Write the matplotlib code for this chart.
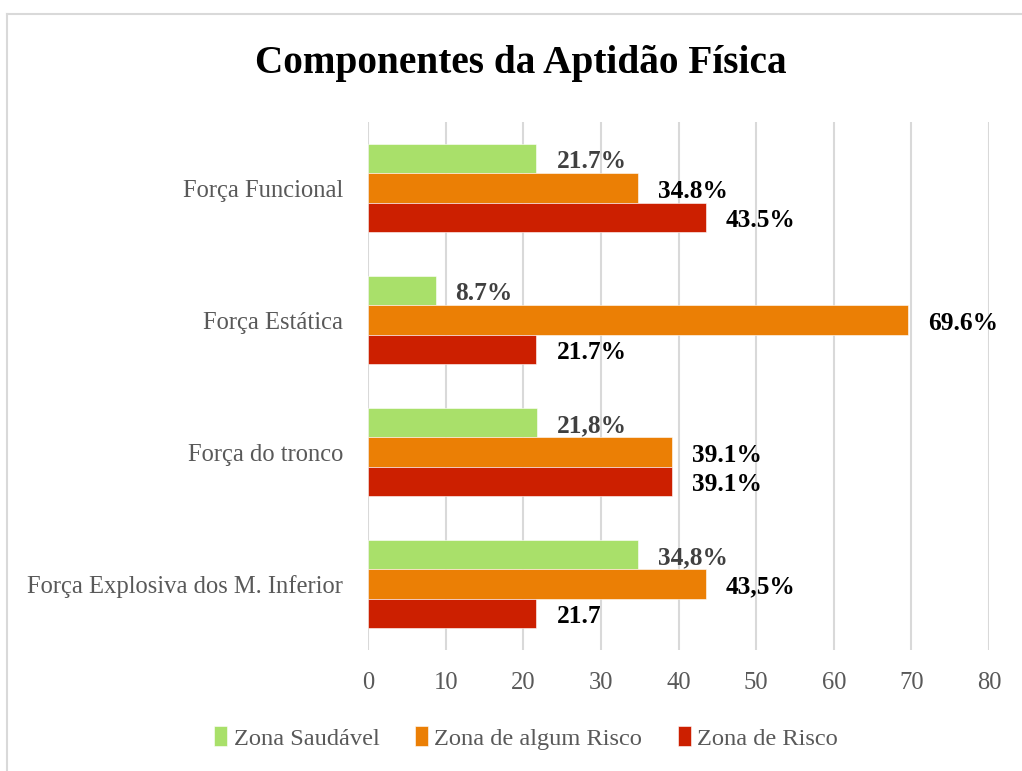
import numpy as np
import matplotlib
matplotlib.use('Agg')
import matplotlib.pyplot as plt
from matplotlib.lines import Line2D

plt.rcParams['font.family'] = ['Liberation Serif', 'DejaVu Serif']

# categories listed bottom -> top (as drawn by the axis)
categorias = ['Força Explosiva dos M. Inferior', 'Força do tronco', 'Força Estática', 'Força Funcional']
series = ['Zona Saudável', 'Zona de algum Risco', 'Zona de Risco']
saudavel = [34.8, 21.8, 8.7, 21.7]
algum_risco = [43.5, 39.1, 69.6, 34.8]
risco = [21.7, 39.1, 21.7, 43.5]
rot_saudavel = ['34,8%', '21,8%', '8.7%', '21.7%']
rot_algum = ['43,5%', '39.1%', '69.6%', '34.8%']
rot_risco = ['21.7', '39.1%', '21.7%', '43.5%']
ticks_x = [0, 10, 20, 30, 40, 50, 60, 70, 80]

cores = ['#A9E06A', '#EB7F05', '#CC1F00']
cor_rot = ['#404040', 'black', 'black']

fig = plt.figure(figsize=(10.22, 7.71), dpi=100)
ax = fig.add_axes([368/1022, 1-650/771, (989-368)/1022, (650-122)/771])

y = np.arange(len(categorias))
h = 0.2235
valores = [saudavel, algum_risco, risco]
rotulos = [rot_saudavel, rot_algum, rot_risco]
desloc = [h, 0, -h]

for vals, rots, cor, crot, d, nome in zip(valores, rotulos, cores, cor_rot, desloc, series):
	bars = ax.barh(y + d, vals, height=h, color=cor, label=nome, zorder=3,
		edgecolor='white', linewidth=0.4)
	for b, r in zip(bars, rots):
		ax.annotate(r, (b.get_width(), b.get_y() + b.get_height()/2),
			xytext=(20, -3), textcoords='offset pixels', ha='left', va='center',
			fontsize=18.3, fontweight='bold', color=crot, zorder=4)

ax.set_xlim(0, 80)
ax.set_ylim(-0.5, 3.5)
ax.set_xticks(ticks_x)
ax.set_yticks(y)
ax.set_yticklabels(categorias)
ax.xaxis.grid(True, color='#D9D9D9', linewidth=1.5, zorder=0)
ax.set_axisbelow(True)
for s in ax.spines.values():
	s.set_visible(False)
ax.tick_params(axis='both', length=0, labelsize=17.7, labelcolor='#595959')
ax.tick_params(axis='x', pad=16)
ax.tick_params(axis='y', pad=18)

fig.text(521/1022, 1-64/771, 'Componentes da Aptidão Física', ha='center', va='center',
	fontsize=28.3, fontweight='bold', color='black')

leg = fig.legend(loc='center', bbox_to_anchor=(526/1022, 1-738/771), ncol=3, frameon=False,
	fontsize=17.6, handlelength=0.55, handleheight=0.85, handletextpad=0.25, columnspacing=1.45)
for t in leg.get_texts():
	t.set_color('#595959')

# outer border (left and top visible)
fig.add_artist(Line2D([7/1022, 7/1022], [0, 1-14/771], color='#D9D9D9', linewidth=1.5))
fig.add_artist(Line2D([7/1022, 1], [1-14/771, 1-14/771], color='#D9D9D9', linewidth=1.5))

fig.savefig('out.png', dpi=100)
